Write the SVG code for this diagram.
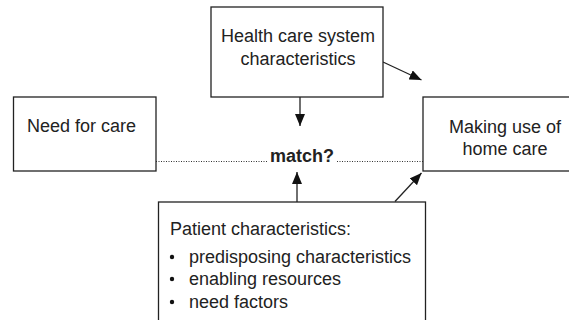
<svg xmlns="http://www.w3.org/2000/svg" width="569" height="320" viewBox="0 0 569 320">
  <style>
    .box { fill: #ffffff; stroke: #222222; stroke-width: 1.3; }
    .lbl { font-family: "Liberation Sans", Arial, sans-serif; font-size: 18px; fill: #222222; }
    .mid { text-anchor: middle; }
    .bold { font-weight: bold; }
    .edge { stroke: #222222; stroke-width: 1.3; fill: none; }
    .dots { stroke: #333333; stroke-width: 1; stroke-dasharray: 1 1.5; fill: none; }
  </style>
  <defs>
    <marker id="arrow" markerUnits="userSpaceOnUse" markerWidth="12" markerHeight="10" refX="12" refY="5" orient="auto">
      <path d="M0,0 L12,5 L0,10 Z" fill="#111111"/>
    </marker>
  </defs>
  <rect width="569" height="320" fill="#ffffff"/>

  <g id="connectors">
    <path class="dots" d="M156,161.5 H268"/>
    <path class="dots" d="M337,161.5 H423"/>
    <path class="edge" d="M300,97 V126" marker-end="url(#arrow)"/>
    <path class="edge" d="M383,62 L421.5,80" marker-end="url(#arrow)"/>
    <path class="edge" d="M297,202 V172" marker-end="url(#arrow)"/>
    <path class="edge" d="M395,201.5 L421.5,173" marker-end="url(#arrow)"/>
  </g>

  <g id="health-care-system">
    <rect class="box" x="211" y="7" width="172" height="90"/>
    <text class="lbl mid" x="298" y="42">Health care system</text>
    <text class="lbl mid" x="298" y="65">characteristics</text>
  </g>

  <g id="need-for-care">
    <rect class="box" x="13.5" y="97" width="142.5" height="74"/>
    <text class="lbl" x="27" y="132">Need for care</text>
  </g>

  <g id="home-care-use">
    <rect class="box" x="423" y="97" width="160" height="74"/>
    <text class="lbl mid" x="505" y="133">Making use of</text>
    <text class="lbl mid" x="505" y="155">home care</text>
  </g>

  <g id="match">
    <text class="lbl bold" x="270" y="162">match?</text>
  </g>

  <g id="patient-characteristics">
    <rect class="box" x="158.5" y="202" width="267" height="130"/>
    <text class="lbl" x="170" y="235">Patient characteristics:</text>
    <circle cx="172" cy="257" r="2.2" fill="#111111"/>
    <circle cx="172" cy="279" r="2.2" fill="#111111"/>
    <circle cx="172" cy="302" r="2.2" fill="#111111"/>
    <text class="lbl" x="189" y="263">predisposing characteristics</text>
    <text class="lbl" x="189" y="285">enabling resources</text>
    <text class="lbl" x="189" y="308">need factors</text>
  </g>
</svg>
